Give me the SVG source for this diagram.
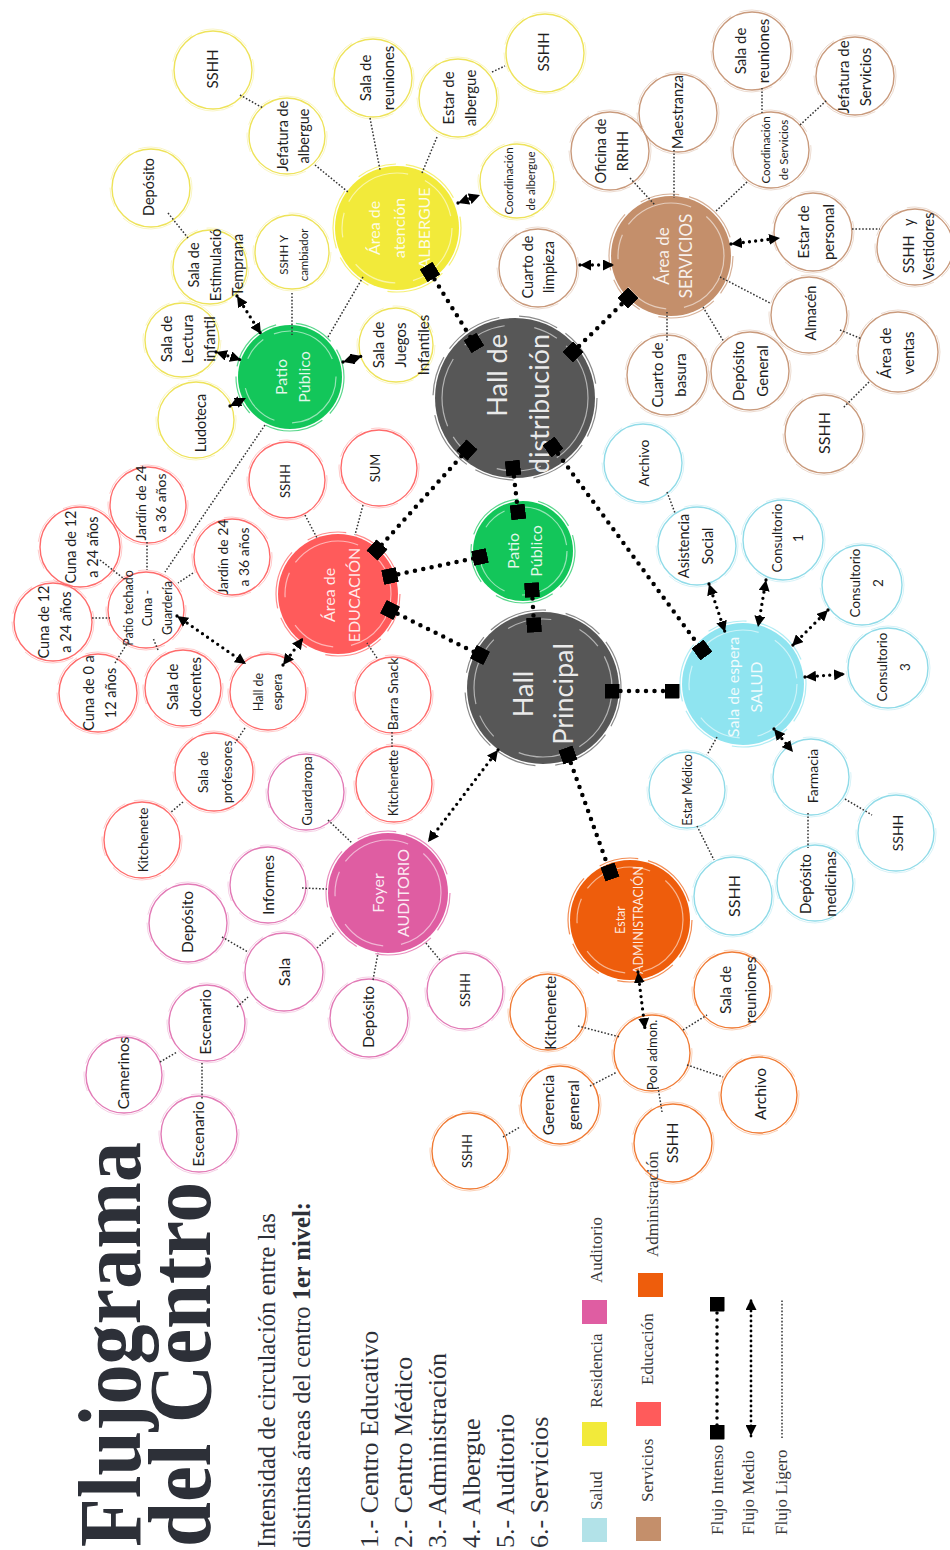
<svg xmlns="http://www.w3.org/2000/svg" width="950" height="1550" viewBox="0 0 950 1550">
<defs>
<marker id="sq" viewBox="-1 -1 2 2" markerWidth="15" markerHeight="15" markerUnits="userSpaceOnUse" orient="auto"><rect x="-1" y="-1" width="2" height="2" rx="0.12" fill="#000"/></marker>
<marker id="ar" viewBox="0 -5 10 10" refX="10" refY="0" markerWidth="11" markerHeight="11" markerUnits="userSpaceOnUse" orient="auto-start-reverse"><path d="M0,-5L10,0L0,5z" fill="#000"/></marker>
</defs>
<style>
.hub text{font-family:Lato,"Open Sans",sans-serif;fill:#fff;fill-opacity:.88;text-anchor:middle;dominant-baseline:central}
.hub .in{fill:none;stroke:#fff;stroke-opacity:.55;stroke-width:1.2;stroke-dasharray:70 18 45 30 25 12}
.hub .ed{fill:none;stroke-width:1.2;stroke-opacity:.7;stroke-dasharray:40 10 60 20}
.sat text{font-family:Lato,"Open Sans",sans-serif;fill:#1e1e1e;text-anchor:middle;dominant-baseline:central}
.sat circle{fill:none;stroke-width:1.4}
.sat .sk{stroke-width:.8;stroke-opacity:.45;stroke-dasharray:34 9 52 14 20 8}
.yel circle{stroke:#eee35a}
.red circle{stroke:#ff6b6b}
.pnk circle{stroke:#e27ab6}
.org circle{stroke:#f07a33}
.cyn circle{stroke:#90dbe8}
.brn circle{stroke:#c99a7c}
.int{fill:none;stroke:#000;stroke-width:4.5;stroke-linecap:round;stroke-dasharray:0 8.5;marker-start:url(#sq);marker-end:url(#sq)}
.med{fill:none;stroke:#000;stroke-width:3.3;stroke-linecap:round;stroke-dasharray:0 6.2;marker-start:url(#ar);marker-end:url(#ar)}
.lig{fill:none;stroke:#333;stroke-width:1.5;stroke-dasharray:1.6 1.8}
.ser{font-family:"Liberation Serif","Times New Roman",serif;fill:#2d3038}
.leg{font-family:"Liberation Serif","Times New Roman",serif;fill:#3a3a3a;font-size:17px}
</style>
<rect width="950" height="1550" fill="#fff"/>

<!-- HUBS -->
<g id="hall-distribucion" class="hub"><circle cx="515" cy="398" r="80" fill="#575757"/><circle class="ed" cx="515" cy="398" r="82" stroke="#575757"/><circle class="in" cx="515" cy="398" r="73"/>
<text font-size="27" style="text-anchor:end" transform="translate(517,334) rotate(-90)"><tspan x="0" y="-21">Hall de</tspan><tspan x="0" y="21">distribución</tspan></text></g>
<g id="hall-principal" class="hub"><circle cx="543" cy="688" r="76" fill="#575757"/><circle class="ed" cx="543" cy="688" r="78" stroke="#575757"/><circle class="in" cx="543" cy="688" r="69"/>
<text font-size="27" transform="translate(542,694) rotate(-90)"><tspan x="0" y="-20">Hall</tspan><tspan x="0" y="20">Principal</tspan></text></g>
<g id="patio-publico-c" class="hub"><circle cx="523" cy="551" r="50" fill="#13c65a"/><circle class="ed" cx="523" cy="551" r="52" stroke="#13c65a"/><circle class="in" cx="523" cy="551" r="44"/>
<text font-size="16" transform="translate(523,551) rotate(-90)"><tspan x="0" y="-11.5">Patio</tspan><tspan x="0" y="11.5">Público</tspan></text></g>
<g id="area-educacion" class="hub"><circle cx="338" cy="594" r="60" fill="#ff5b5b"/><circle class="ed" cx="338" cy="594" r="62" stroke="#ff5b5b"/><circle class="in" cx="338" cy="594" r="53"/>
<text font-size="16" transform="translate(340,595) rotate(-90)"><tspan x="0" y="-12.5">Área de</tspan><tspan x="0" y="12.5">EDUCACIÓN</tspan></text></g>
<g id="patio-publico-l" class="hub"><circle cx="290" cy="377" r="52" fill="#13c65a"/><circle class="ed" cx="290" cy="377" r="54" stroke="#13c65a"/><circle class="in" cx="290" cy="377" r="46"/>
<text font-size="16" transform="translate(291,377) rotate(-90)"><tspan x="0" y="-11.5">Patio</tspan><tspan x="0" y="11.5">Público</tspan></text></g>
<g id="area-albergue" class="hub"><circle cx="397" cy="228" r="62" fill="#f2ea3a"/><circle class="ed" cx="397" cy="228" r="64" stroke="#f2ea3a"/><circle class="in" cx="397" cy="228" r="55"/>
<text font-size="16" transform="translate(398,228) rotate(-90)"><tspan x="0" y="-25">Área de</tspan><tspan x="0" y="0">atención</tspan><tspan x="0" y="25">ALBERGUE</tspan></text></g>
<g id="area-servicios" class="hub"><circle cx="671" cy="256" r="60" fill="#c48f6b"/><circle class="ed" cx="671" cy="256" r="62" stroke="#c48f6b"/><circle class="in" cx="671" cy="256" r="53"/>
<text font-size="17" transform="translate(673,256) rotate(-90)"><tspan x="0" y="-11.5">Área de</tspan><tspan x="0" y="11.5">SERVICIOS</tspan></text></g>
<g id="sala-espera-salud" class="hub"><circle cx="743" cy="684" r="61" fill="#8fe4f0"/><circle class="ed" cx="743" cy="684" r="63" stroke="#8fe4f0"/><circle class="in" cx="743" cy="684" r="54"/>
<text font-size="16" transform="translate(743,687) rotate(-90)"><tspan x="0" y="-11.5">Sala de espera</tspan><tspan x="0" y="11.5">SALUD</tspan></text></g>
<g id="foyer-auditorio" class="hub"><circle cx="388" cy="893" r="60" fill="#df5da2"/><circle class="ed" cx="388" cy="893" r="62" stroke="#df5da2"/><circle class="in" cx="388" cy="893" r="53"/>
<text font-size="16" transform="translate(389,893) rotate(-90)"><tspan x="0" y="-12.5">Foyer</tspan><tspan x="0" y="12.5">AUDITORIO</tspan></text></g>
<g id="estar-administracion" class="hub"><circle cx="630" cy="920" r="60" fill="#ee5d0c"/><circle class="ed" cx="630" cy="920" r="62" stroke="#ee5d0c"/><circle class="in" cx="630" cy="920" r="53"/>
<text font-size="12.5" transform="translate(629,920) rotate(-90)"><tspan x="0" y="-9">Estar</tspan><tspan x="0" y="9">ADMINISTRACIÓN</tspan></text></g>

<!-- SATELLITES: Albergue / Patio -->
<g id="y-sshh1" class="sat yel"><circle cx="213" cy="70" r="39"/><circle class="sk" cx="213" cy="70" r="41"/><text font-size="15" transform="translate(212,69) rotate(-90)">SSHH</text></g>
<g id="y-jefatura" class="sat yel"><circle cx="287" cy="136" r="38"/><circle class="sk" cx="287" cy="136" r="40"/><text font-size="14.5" transform="translate(292,136) rotate(-90)"><tspan x="0" y="-10.5">Jefatura de</tspan><tspan x="0" y="10.5">albergue</tspan></text></g>
<g id="y-sala-reuniones" class="sat yel"><circle cx="373" cy="78" r="39"/><circle class="sk" cx="373" cy="78" r="41"/><text font-size="15" transform="translate(376,78) rotate(-90)"><tspan x="0" y="-11.5">Sala de</tspan><tspan x="0" y="11.5">reuniones</tspan></text></g>
<g id="y-estar" class="sat yel"><circle cx="458" cy="98" r="39"/><circle class="sk" cx="458" cy="98" r="41"/><text font-size="15" transform="translate(459,98) rotate(-90)"><tspan x="0" y="-11">Estar de</tspan><tspan x="0" y="11">albergue</tspan></text></g>
<g id="y-sshh2" class="sat yel"><circle cx="545" cy="53" r="39"/><circle class="sk" cx="545" cy="53" r="41"/><text font-size="15" transform="translate(543,52) rotate(-90)">SSHH</text></g>
<g id="y-coordinacion" class="sat yel"><circle cx="517" cy="181" r="37"/><circle class="sk" cx="517" cy="181" r="39"/><text font-size="11.5" transform="translate(519,181) rotate(-90)"><tspan x="0" y="-11">Coordinación</tspan><tspan x="0" y="11">de albergue</tspan></text></g>
<g id="y-deposito" class="sat yel"><circle cx="151" cy="188" r="39"/><circle class="sk" cx="151" cy="188" r="41"/><text font-size="14.5" transform="translate(148,187) rotate(-90)">Depósito</text></g>
<g id="y-estimulacion" class="sat yel"><circle cx="210" cy="267" r="37"/><circle class="sk" cx="210" cy="267" r="39"/><text font-size="14.5" transform="translate(215,265) rotate(-90)"><tspan x="0" y="-22">Sala de</tspan><tspan x="0" y="0">Estimulació</tspan><tspan x="0" y="22">Temprana</tspan></text></g>
<g id="y-sshh-cambiador" class="sat yel"><circle cx="292" cy="252" r="37"/><circle class="sk" cx="292" cy="252" r="39"/><text font-size="11.5" transform="translate(293,255) rotate(-90)"><tspan x="0" y="-10">SSHH Y</tspan><tspan x="0" y="10">cambiador</tspan></text></g>
<g id="y-lectura" class="sat yel"><circle cx="182" cy="340" r="37"/><circle class="sk" cx="182" cy="340" r="39"/><text font-size="15" transform="translate(187,339) rotate(-90)"><tspan x="0" y="-21.5">Sala de</tspan><tspan x="0" y="0">Lectura</tspan><tspan x="0" y="21.5">infantil</tspan></text></g>
<g id="y-juegos" class="sat yel"><circle cx="396" cy="345" r="37"/><circle class="sk" cx="396" cy="345" r="39"/><text font-size="15" transform="translate(400,345) rotate(-90)"><tspan x="0" y="-22.5">Sala de</tspan><tspan x="0" y="0">Juegos</tspan><tspan x="0" y="22.5">Infantiles</tspan></text></g>
<g id="y-ludoteca" class="sat yel"><circle cx="196" cy="420" r="38"/><circle class="sk" cx="196" cy="420" r="40"/><text font-size="14.5" transform="translate(200,423) rotate(-90)">Ludoteca</text></g>

<!-- SATELLITES: Educación -->
<g id="r-sshh" class="sat red"><circle cx="287" cy="480" r="38"/><circle class="sk" cx="287" cy="480" r="40"/><text font-size="13" transform="translate(285,481) rotate(-90)">SSHH</text></g>
<g id="r-sum" class="sat red"><circle cx="379" cy="468" r="38"/><circle class="sk" cx="379" cy="468" r="40"/><text font-size="13" transform="translate(375,468) rotate(-90)">SUM</text></g>
<g id="r-jardin1" class="sat red"><circle cx="148" cy="505" r="38"/><circle class="sk" cx="148" cy="505" r="40"/><text font-size="14" transform="translate(150,503) rotate(-90)"><tspan x="0" y="-10">Jardín de 24</tspan><tspan x="0" y="10">a 36 años</tspan></text></g>
<g id="r-cuna1" class="sat red"><circle cx="80" cy="547" r="40"/><circle class="sk" cx="80" cy="547" r="42"/><text font-size="14.5" transform="translate(81,547) rotate(-90)"><tspan x="0" y="-11">Cuna de 12</tspan><tspan x="0" y="11">a 24 años</tspan></text></g>
<g id="r-cuna2" class="sat red"><circle cx="53" cy="622" r="39"/><circle class="sk" cx="53" cy="622" r="41"/><text font-size="14.5" transform="translate(54,622) rotate(-90)"><tspan x="0" y="-11">Cuna de 12</tspan><tspan x="0" y="11">a 24 años</tspan></text></g>
<g id="r-patio-techado" class="sat red"><circle cx="146" cy="610" r="38"/><circle class="sk" cx="146" cy="610" r="40"/><text font-size="12.5" transform="translate(147,608) rotate(-90)"><tspan x="0" y="-19.5">Patio techado</tspan><tspan x="0" y="0">Cuna -</tspan><tspan x="0" y="19.5">Guardería</tspan></text></g>
<g id="r-jardin2" class="sat red"><circle cx="232" cy="557" r="38"/><circle class="sk" cx="232" cy="557" r="40"/><text font-size="14" transform="translate(232,557) rotate(-90)"><tspan x="0" y="-10.5">Jardín de 24</tspan><tspan x="0" y="10.5">a 36 años</tspan></text></g>
<g id="r-cuna0" class="sat red"><circle cx="98" cy="693" r="39"/><circle class="sk" cx="98" cy="693" r="41"/><text font-size="14.5" transform="translate(99,693) rotate(-90)"><tspan x="0" y="-11">Cuna de 0 a</tspan><tspan x="0" y="11">12 años</tspan></text></g>
<g id="r-docentes" class="sat red"><circle cx="183" cy="688" r="38"/><circle class="sk" cx="183" cy="688" r="40"/><text font-size="15" transform="translate(183,687) rotate(-90)"><tspan x="0" y="-11.5">Sala de</tspan><tspan x="0" y="11.5">docentes</tspan></text></g>
<g id="r-hall-espera" class="sat red"><circle cx="268" cy="692" r="38"/><circle class="sk" cx="268" cy="692" r="40"/><text font-size="12.5" transform="translate(267,692) rotate(-90)"><tspan x="0" y="-9.5">Hall de</tspan><tspan x="0" y="9.5">espera</tspan></text></g>
<g id="r-barra" class="sat red"><circle cx="393" cy="695" r="38"/><circle class="sk" cx="393" cy="695" r="40"/><text font-size="14" transform="translate(392,694) rotate(-90)">Barra Snack</text></g>
<g id="r-kitchenette" class="sat red"><circle cx="394" cy="784" r="38"/><circle class="sk" cx="394" cy="784" r="40"/><text font-size="13" transform="translate(393,783) rotate(-90)">Kitchenette</text></g>
<g id="r-profesores" class="sat red"><circle cx="214" cy="772" r="39"/><circle class="sk" cx="214" cy="772" r="41"/><text font-size="13.5" transform="translate(215,772) rotate(-90)"><tspan x="0" y="-12">Sala de</tspan><tspan x="0" y="12">profesores</tspan></text></g>
<g id="r-kitchenete" class="sat red"><circle cx="142" cy="840" r="38"/><circle class="sk" cx="142" cy="840" r="40"/><text font-size="13.5" transform="translate(143,840) rotate(-90)">Kitchenete</text></g>

<!-- SATELLITES: Auditorio -->
<g id="p-guardaropa" class="sat pnk"><circle cx="306" cy="792" r="38"/><circle class="sk" cx="306" cy="792" r="40"/><text font-size="13.5" transform="translate(307,791) rotate(-90)">Guardaropa</text></g>
<g id="p-informes" class="sat pnk"><circle cx="268" cy="885" r="38"/><circle class="sk" cx="268" cy="885" r="40"/><text font-size="15.5" transform="translate(268,885) rotate(-90)">Informes</text></g>
<g id="p-deposito1" class="sat pnk"><circle cx="188" cy="923" r="39"/><circle class="sk" cx="188" cy="923" r="41"/><text font-size="15.5" transform="translate(187,922) rotate(-90)">Depósito</text></g>
<g id="p-sala" class="sat pnk"><circle cx="284" cy="972" r="39"/><circle class="sk" cx="284" cy="972" r="41"/><text font-size="16" transform="translate(283,972) rotate(-90)">Sala</text></g>
<g id="p-escenario1" class="sat pnk"><circle cx="207" cy="1023" r="38"/><circle class="sk" cx="207" cy="1023" r="40"/><text font-size="15.5" transform="translate(205,1022) rotate(-90)">Escenario</text></g>
<g id="p-camerinos" class="sat pnk"><circle cx="124" cy="1075" r="38"/><circle class="sk" cx="124" cy="1075" r="40"/><text font-size="15.5" transform="translate(123,1073) rotate(-90)">Camerinos</text></g>
<g id="p-escenario2" class="sat pnk"><circle cx="199" cy="1134" r="38"/><circle class="sk" cx="199" cy="1134" r="40"/><text font-size="15.5" transform="translate(198,1134) rotate(-90)">Escenario</text></g>
<g id="p-deposito2" class="sat pnk"><circle cx="369" cy="1018" r="39"/><circle class="sk" cx="369" cy="1018" r="41"/><text font-size="15.5" transform="translate(368,1017) rotate(-90)">Depósito</text></g>
<g id="p-sshh" class="sat pnk"><circle cx="465" cy="991" r="38"/><circle class="sk" cx="465" cy="991" r="40"/><text font-size="13" transform="translate(465,990) rotate(-90)">SSHH</text></g>

<!-- SATELLITES: Administración -->
<g id="o-kitchenete" class="sat org"><circle cx="548" cy="1012" r="38"/><circle class="sk" cx="548" cy="1012" r="40"/><text font-size="15.5" transform="translate(550,1013) rotate(-90)">Kitchenete</text></g>
<g id="o-pool" class="sat org"><circle cx="652" cy="1053" r="38"/><circle class="sk" cx="652" cy="1053" r="40"/><text font-size="13" transform="translate(652,1055) rotate(-90)">Pool admon.</text></g>
<g id="o-sala-reuniones" class="sat org"><circle cx="732" cy="990" r="38"/><circle class="sk" cx="732" cy="990" r="40"/><text font-size="15.5" transform="translate(737,990) rotate(-90)"><tspan x="0" y="-12.5">Sala de</tspan><tspan x="0" y="12.5">reuniones</tspan></text></g>
<g id="o-archivo" class="sat org"><circle cx="759" cy="1095" r="38"/><circle class="sk" cx="759" cy="1095" r="40"/><text font-size="15.5" transform="translate(760,1094) rotate(-90)">Archivo</text></g>
<g id="o-gerencia" class="sat org"><circle cx="560" cy="1105" r="39"/><circle class="sk" cx="560" cy="1105" r="41"/><text font-size="15.5" transform="translate(560,1105) rotate(-90)"><tspan x="0" y="-12.5">Gerencia</tspan><tspan x="0" y="12.5">general</tspan></text></g>
<g id="o-sshh1" class="sat org"><circle cx="673" cy="1143" r="39"/><circle class="sk" cx="673" cy="1143" r="41"/><text font-size="15.5" transform="translate(672,1143) rotate(-90)">SSHH</text></g>
<g id="o-sshh2" class="sat org"><circle cx="470" cy="1151" r="38"/><circle class="sk" cx="470" cy="1151" r="40"/><text font-size="13" transform="translate(467,1151) rotate(-90)">SSHH</text></g>

<!-- SATELLITES: Salud -->
<g id="c-archivo" class="sat cyn"><circle cx="643" cy="463" r="39"/><circle class="sk" cx="643" cy="463" r="41"/><text font-size="14" transform="translate(643,463) rotate(-90)">Archivo</text></g>
<g id="c-asistencia" class="sat cyn"><circle cx="697" cy="546" r="39"/><circle class="sk" cx="697" cy="546" r="41"/><text font-size="14.5" transform="translate(695,546) rotate(-90)"><tspan x="0" y="-12">Asistencia</tspan><tspan x="0" y="12">Social</tspan></text></g>
<g id="c-consultorio1" class="sat cyn"><circle cx="783" cy="540" r="40"/><circle class="sk" cx="783" cy="540" r="42"/><text font-size="13.5" transform="translate(787,538) rotate(-90)"><tspan x="0" y="-10.5">Consultorio</tspan><tspan x="0" y="10.5">1</tspan></text></g>
<g id="c-consultorio2" class="sat cyn"><circle cx="862" cy="585" r="40"/><circle class="sk" cx="862" cy="585" r="42"/><text font-size="13.5" transform="translate(866,583) rotate(-90)"><tspan x="0" y="-11.5">Consultorio</tspan><tspan x="0" y="11.5">2</tspan></text></g>
<g id="c-consultorio3" class="sat cyn"><circle cx="888" cy="668" r="40"/><circle class="sk" cx="888" cy="668" r="42"/><text font-size="13.5" transform="translate(893,667) rotate(-90)"><tspan x="0" y="-11.5">Consultorio</tspan><tspan x="0" y="11.5">3</tspan></text></g>
<g id="c-estar-medico" class="sat cyn"><circle cx="687" cy="790" r="38"/><circle class="sk" cx="687" cy="790" r="40"/><text font-size="12.5" transform="translate(687,790) rotate(-90)">Estar Médico</text></g>
<g id="c-farmacia" class="sat cyn"><circle cx="811" cy="777" r="38"/><circle class="sk" cx="811" cy="777" r="40"/><text font-size="14" transform="translate(812,776) rotate(-90)">Farmacia</text></g>
<g id="c-sshh1" class="sat cyn"><circle cx="733" cy="896" r="39"/><circle class="sk" cx="733" cy="896" r="41"/><text font-size="16" transform="translate(733,896) rotate(-90)">SSHH</text></g>
<g id="c-deposito-med" class="sat cyn"><circle cx="815" cy="883" r="38"/><circle class="sk" cx="815" cy="883" r="40"/><text font-size="15" transform="translate(817,884) rotate(-90)"><tspan x="0" y="-12.5">Depósito</tspan><tspan x="0" y="12.5">medicinas</tspan></text></g>
<g id="c-sshh2" class="sat cyn"><circle cx="896" cy="833" r="38"/><circle class="sk" cx="896" cy="833" r="40"/><text font-size="14" transform="translate(897,833) rotate(-90)">SSHH</text></g>

<!-- SATELLITES: Servicios -->
<g id="b-rrhh" class="sat brn"><circle cx="610" cy="151" r="39"/><circle class="sk" cx="610" cy="151" r="41"/><text font-size="14.5" transform="translate(611,151) rotate(-90)"><tspan x="0" y="-11">Oficina de</tspan><tspan x="0" y="11">RRHH</tspan></text></g>
<g id="b-maestranza" class="sat brn"><circle cx="678" cy="113" r="39"/><circle class="sk" cx="678" cy="113" r="41"/><text font-size="14.5" transform="translate(677,112) rotate(-90)">Maestranza</text></g>
<g id="b-sala-reuniones" class="sat brn"><circle cx="752" cy="51" r="39"/><circle class="sk" cx="752" cy="51" r="41"/><text font-size="15" transform="translate(751,51) rotate(-90)"><tspan x="0" y="-11.5">Sala de</tspan><tspan x="0" y="11.5">reuniones</tspan></text></g>
<g id="b-coordinacion" class="sat brn"><circle cx="771" cy="150" r="38"/><circle class="sk" cx="771" cy="150" r="40"/><text font-size="11.5" transform="translate(774,150) rotate(-90)"><tspan x="0" y="-9">Coordinación</tspan><tspan x="0" y="9">de Servicios</tspan></text></g>
<g id="b-jefatura" class="sat brn"><circle cx="855" cy="76" r="39"/><circle class="sk" cx="855" cy="76" r="41"/><text font-size="15" transform="translate(854,77) rotate(-90)"><tspan x="0" y="-11">Jefatura de</tspan><tspan x="0" y="11">Servicios</tspan></text></g>
<g id="b-limpieza" class="sat brn"><circle cx="538" cy="268" r="39"/><circle class="sk" cx="538" cy="268" r="41"/><text font-size="14.5" transform="translate(537,267) rotate(-90)"><tspan x="0" y="-10.5">Cuarto de</tspan><tspan x="0" y="10.5">limpieza</tspan></text></g>
<g id="b-estar" class="sat brn"><circle cx="813" cy="232" r="39"/><circle class="sk" cx="813" cy="232" r="41"/><text font-size="15" transform="translate(815,232) rotate(-90)"><tspan x="0" y="-12.5">Estar de</tspan><tspan x="0" y="12.5">personal</tspan></text></g>
<g id="b-vestidores" class="sat brn"><circle cx="915" cy="247" r="38"/><circle class="sk" cx="915" cy="247" r="40"/><text font-size="14.5" transform="translate(918,246) rotate(-90)"><tspan x="0" y="-10" style="word-spacing:6px">SSHH y</tspan><tspan x="0" y="10">Vestidores</tspan></text></g>
<g id="b-almacen" class="sat brn"><circle cx="809" cy="315" r="38"/><circle class="sk" cx="809" cy="315" r="40"/><text font-size="14.5" transform="translate(810,313) rotate(-90)">Almacén</text></g>
<g id="b-ventas" class="sat brn"><circle cx="898" cy="352" r="40"/><circle class="sk" cx="898" cy="352" r="42"/><text font-size="15" transform="translate(896,353) rotate(-90)"><tspan x="0" y="-11.5">Área de</tspan><tspan x="0" y="11.5">ventas</tspan></text></g>
<g id="b-basura" class="sat brn"><circle cx="667" cy="375" r="40"/><circle class="sk" cx="667" cy="375" r="42"/><text font-size="15" transform="translate(668,375) rotate(-90)"><tspan x="0" y="-11.5">Cuarto de</tspan><tspan x="0" y="11.5">basura</tspan></text></g>
<g id="b-deposito" class="sat brn"><circle cx="750" cy="371" r="39"/><circle class="sk" cx="750" cy="371" r="41"/><text font-size="15" transform="translate(750,371) rotate(-90)"><tspan x="0" y="-12">Depósito</tspan><tspan x="0" y="12">General</tspan></text></g>
<g id="b-sshh" class="sat brn"><circle cx="824" cy="434" r="39"/><circle class="sk" cx="824" cy="434" r="41"/><text font-size="16" transform="translate(823,433) rotate(-90)">SSHH</text></g>

<!-- CONNECTORS -->
<g id="connectors">
<path class="lig" d="M240,95L263,108 M315,165L348,192 M370,118L380,170 M437,137L422,173 M492,72L505,66 M168,213L188,238 M292,293L292,335 M363,277L328,337 M265,425L165,572
M147,542L147,570 M100,560L123,578 M92,618L110,618 M115,663L128,642 M158,650L153,638 M193,573L178,583 M305,515L317,538 M363,505L355,535 M377,658L367,643 M392,732L392,747 M245,728L235,743 M183,802L170,813
M328,820L352,843 M302,888L327,889 M317,948L335,932 M222,937L248,952 M237,1007L248,997 M160,1062L177,1052 M202,1063L202,1100 M373,980L378,953 M440,960L425,942
M578,1026L620,1037 M590,1086L617,1072 M503,1137L520,1127 M658,1087L662,1112 M683,1030L707,1015 M687,1065L723,1077
M667,492L675,513 M717,737L707,755 M697,826L714,860 M808,813L808,848 M845,799L872,815
M630,178L655,205 M674,150L674,198 M747,182L715,212 M762,88L762,113 M800,125L827,100 M852,229L880,229 M720,277L770,303 M840,330L862,339 M869,382L843,408 M667,312L667,342 M703,307L724,342"/>
<line class="med" x1="458" y1="203" x2="480" y2="195"/>
<line class="med" x1="237" y1="296" x2="261" y2="334"/>
<line class="med" x1="216" y1="352" x2="241" y2="360"/>
<line class="med" x1="343" y1="362" x2="362" y2="356"/>
<line class="med" x1="230" y1="406" x2="246" y2="398"/>
<line class="med" x1="283" y1="665" x2="303" y2="638"/>
<line class="med" x1="177" y1="616" x2="246" y2="664"/>
<line class="med" x1="580" y1="265" x2="614" y2="265"/>
<line class="med" x1="731" y1="244" x2="780" y2="238"/>
<line class="med" x1="709" y1="584" x2="725" y2="632"/>
<line class="med" x1="766" y1="580" x2="758" y2="627"/>
<line class="med" x1="828" y1="610" x2="792" y2="646"/>
<line class="med" x1="805" y1="677" x2="845" y2="674"/>
<line class="med" x1="774" y1="729" x2="793" y2="752"/>
<line class="med" x1="498" y1="750" x2="428" y2="842"/>
<line class="med" x1="638" y1="972" x2="645" y2="1029"/>
<line class="int" x1="430" y1="272" x2="474" y2="343"/>
<line class="int" x1="573" y1="352" x2="628" y2="298"/>
<line class="int" x1="467" y1="450" x2="377" y2="550"/>
<line class="int" x1="513" y1="468" x2="518" y2="512"/>
<line class="int" x1="553" y1="447" x2="702" y2="650"/>
<line class="int" x1="390" y1="576" x2="480" y2="557"/>
<line class="int" x1="390" y1="610" x2="480" y2="655"/>
<line class="int" x1="532" y1="590" x2="534" y2="625"/>
<line class="int" x1="612" y1="691" x2="672" y2="691"/>
<line class="int" x1="568" y1="755" x2="610" y2="872"/>
</g>

<!-- TITLE AND TEXT -->
<g id="title">
<text class="ser" font-size="88" font-weight="bold" textLength="405" lengthAdjust="spacingAndGlyphs" transform="translate(140,1547) rotate(-90)">Flujograma</text>
<text class="ser" font-size="88" font-weight="bold" textLength="365" lengthAdjust="spacingAndGlyphs" transform="translate(210,1547) rotate(-90)">del Centro</text>
<text class="ser" font-size="24.5" transform="translate(275,1548) rotate(-90)">Intensidad de circulación entre las</text>
<text class="ser" font-size="24.5" transform="translate(310,1548) rotate(-90)">distintas áreas del centro <tspan font-weight="bold">1er nivel:</tspan></text>
<text class="ser" font-size="26" transform="translate(378,1548) rotate(-90)">1.- Centro Educativo</text>
<text class="ser" font-size="26" transform="translate(412,1548) rotate(-90)">2.- Centro Médico</text>
<text class="ser" font-size="26" transform="translate(446,1548) rotate(-90)">3.- Administración</text>
<text class="ser" font-size="26" transform="translate(480,1548) rotate(-90)">4.- Albergue</text>
<text class="ser" font-size="26" transform="translate(514,1548) rotate(-90)">5.- Auditorio</text>
<text class="ser" font-size="26" transform="translate(548,1548) rotate(-90)">6.- Servicios</text>
</g>

<!-- LEGEND -->
<g id="legend">
<rect x="582" y="1518" width="25" height="24" fill="#b2e2e8"/>
<text class="leg" transform="translate(602,1510) rotate(-90)">Salud</text>
<rect x="582" y="1422" width="25" height="24" fill="#f2ea3a"/>
<text class="leg" transform="translate(602,1408) rotate(-90)">Residencia</text>
<rect x="582" y="1300" width="25" height="24" fill="#df5da2"/>
<text class="leg" transform="translate(602,1283) rotate(-90)">Auditorio</text>
<rect x="636" y="1517" width="25" height="24" fill="#c48f6b"/>
<text class="leg" transform="translate(653,1502) rotate(-90)">Servicios</text>
<rect x="636" y="1402" width="25" height="24" fill="#ff5b5b"/>
<text class="leg" transform="translate(653,1385) rotate(-90)">Educación</text>
<rect x="638" y="1273" width="25" height="24" fill="#ee5d0c"/>
<text class="leg" transform="translate(658,1257) rotate(-90)">Administración</text>
<text class="leg" transform="translate(723,1535) rotate(-90)">Flujo Intenso</text>
<text class="leg" transform="translate(754,1535) rotate(-90)">Flujo Medio</text>
<text class="leg" transform="translate(787,1535) rotate(-90)">Flujo Ligero</text>
<line class="int" x1="717" y1="1432" x2="717" y2="1304" style="stroke-width:3.5;stroke-dasharray:0 7"/>
<line class="med" x1="751" y1="1436" x2="751" y2="1299" style="stroke-width:2.8;stroke-dasharray:0 5"/>
<line class="lig" x1="782" y1="1438" x2="782" y2="1300"/>
</g>
</svg>
